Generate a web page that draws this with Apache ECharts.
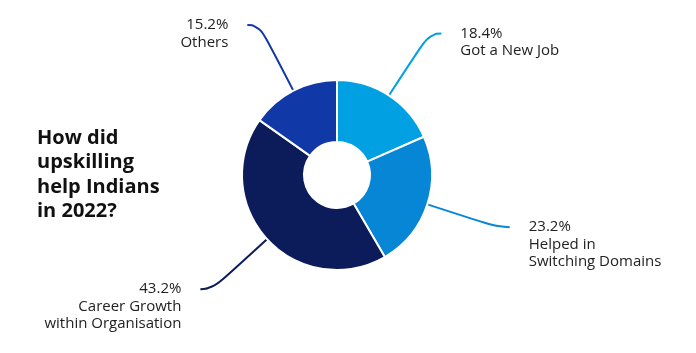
<!doctype html>
<html lang="en">
<head>
    <meta charset="UTF-8">
    <title>Upskilling</title>
    <style>
        html, body { margin: 0; padding: 0; background: #fff; }
        #chart { width: 696px; height: 353px; }
    </style>
</head>
<body>
    <div id="chart"></div>

    <script src="https://cdn.jsdelivr.net/npm/echarts@6/dist/echarts.min.js"></script>
    <script>
        var categories = ['Got a New Job', 'Helped in\nSwitching Domains', 'Career Growth\nwithin Organisation', 'Others'];
        var shares = [18.4, 23.2, 43.2, 15.2];
        var colors = ['#00a0e3', '#0786d6', '#0c1c5b', '#1038a6'];

        var lineH = 17.5;
        var gap = 19;

        var chart = echarts.init(document.getElementById('chart'));

        var data = categories.map(function (name, i) {
            return {
                name: name,
                value: shares[i],
                itemStyle: { color: colors[i] },
                labelLine: { lineStyle: { color: colors[i] } }
            };
        });

        var option = {
            animation: false,
            title: {
                text: 'How did\nupskilling\nhelp Indians\nin 2022?',
                left: 32,
                top: 121,
                textStyle: {
                    fontFamily: 'Open Sans',
                    fontSize: 20,
                    fontWeight: 'bold',
                    lineHeight: 24.4,
                    color: '#111'
                }
            },
            series: [{
                type: 'pie',
                center: [337, 175],
                radius: [33, 95],
                startAngle: 90,
                clockwise: true,
                avoidLabelOverlap: false,
                itemStyle: { borderColor: '#fff', borderWidth: 2 },
                label: {
                    show: true,
                    position: 'outside',
                    formatter: '{c}%\n{b}',
                    fontFamily: 'Open Sans',
                    fontSize: 15,
                    lineHeight: lineH,
                    color: '#222',
                    distanceToLabelLine: gap
                },
                labelLine: {
                    show: true,
                    length: 74,
                    length2: 12,
                    smooth: 0.6,
                    lineStyle: { width: 2 }
                },
                // first text line sits level with the end of the guide line
                labelLayout: function (params) {
                    var pts = params.labelLinePoints;
                    if (!pts) return {};
                    var end = pts[pts.length - 1];
                    var right = end[0] > pts[0][0];
                    return {
                        x: right ? end[0] + gap : end[0] - gap,
                        y: end[1] - lineH / 2,
                        align: right ? 'left' : 'right',
                        verticalAlign: 'top',
                        labelLinePoints: pts
                    };
                },
                emphasis: { disabled: true },
                data: data
            }]
        };

        chart.setOption(option);
    </script>
</body>
</html>
